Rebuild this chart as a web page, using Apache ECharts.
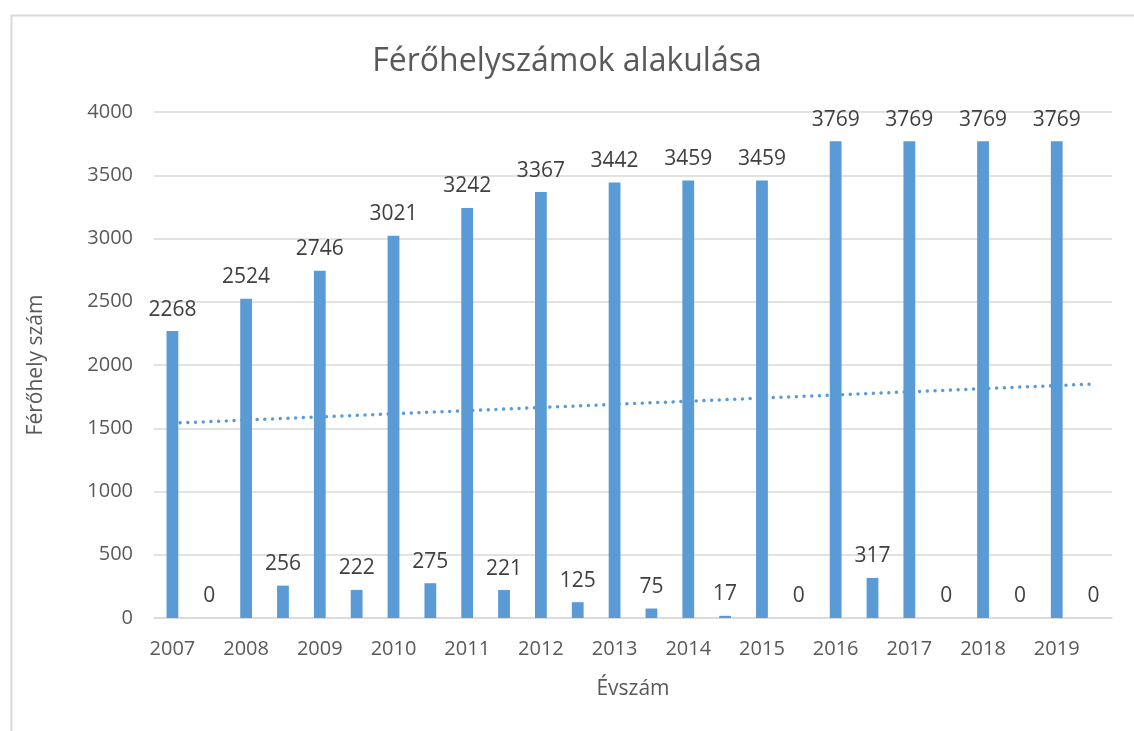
<!DOCTYPE html>
<html>
<head>
<meta charset="utf-8">
<script src="https://cdn.jsdelivr.net/npm/echarts@6/dist/echarts.min.js"></script>
<style>
html,body{margin:0;padding:0;background:#fff;}
#chart{width:1134px;height:731px;}
</style>
</head>
<body>
<div id="chart"></div>
<script>
// Data
const yearLabels = ['2007','2008','2009','2010','2011','2012','2013','2014','2015','2016','2017','2018','2019'];
const yearValues = [2268, 2524, 2746, 3021, 3242, 3367, 3442, 3459, 3459, 3769, 3769, 3769, 3769];
const betweenValues = [0, 256, 222, 275, 221, 125, 75, 17, 0, 317, 0, 0, 0];
const trendEnds = [1540, 1850];
const yTicks = [0, 500, 1000, 1500, 2000, 2500, 3000, 3500, 4000];

// Build alternating categories: year bar, then in-between bar
const categories = [];
const values = [];
yearLabels.forEach((y, i) => {
  categories.push(y); values.push(yearValues[i]);
  categories.push(y + '_b'); values.push(betweenValues[i]);
});
const trendData = values.map(() => null);
trendData[0] = trendEnds[0];
trendData[trendData.length - 1] = trendEnds[1];

const FONT = '"Open Sans", "Noto Sans", sans-serif';
const chart = echarts.init(document.getElementById('chart'));
chart.setOption({
  animation: false,
  backgroundColor: '#fff',
  graphic: [{
    type: 'rect', left: 9, top: 13, z: -10,
    shape: { width: 1300, height: 900 },
    style: { fill: 'none', stroke: '#d9d9d9', lineWidth: 2 }
  }],
  title: {
    text: 'Férőhelyszámok alakulása',
    left: 'center', top: 41,
    textStyle: { fontFamily: FONT, fontSize: 32, fontWeight: 'normal', color: '#595959' }
  },
  grid: { left: 154, right: 22, top: 112, bottom: 113 },
  xAxis: {
    type: 'category',
    data: categories,
    name: 'Évszám',
    nameLocation: 'middle',
    nameGap: 61,
    nameTextStyle: { fontFamily: FONT, fontSize: 21, color: '#595959' },
    axisLine: { lineStyle: { color: '#d9d9d9', width: 1.5 } },
    axisTick: { show: false },
    axisLabel: {
      interval: 0, margin: 21,
      fontFamily: FONT, fontSize: 20, color: '#595959',
      formatter: v => (v.indexOf('_b') >= 0 ? '' : v)
    }
  },
  yAxis: {
    type: 'value', min: yTicks[0], max: yTicks[yTicks.length - 1], interval: 500,
    name: 'Férőhely szám',
    nameLocation: 'middle',
    nameGap: 107,
    nameTextStyle: { fontFamily: FONT, fontSize: 21, color: '#595959' },
    axisLine: { show: false },
    axisTick: { show: false },
    axisLabel: { margin: 21, fontFamily: FONT, fontSize: 20, color: '#595959', formatter: v => String(v) },
    splitLine: { lineStyle: { color: '#d9d9d9', width: 1.5 } }
  },
  series: [
    {
      type: 'line',
      data: trendData,
      connectNulls: true,
      symbol: 'none',
      z: 1,
      lineStyle: { color: '#5b9bd5', width: 3.5, type: [0.01, 7.7], cap: 'round' },
      silent: true
    },
    {
      type: 'bar',
      data: values,
      barWidth: '32%',
      z: 2,
      itemStyle: { color: '#5b9bd5' },
      label: {
        show: true, position: 'top', distance: 11,
        fontFamily: FONT, fontSize: 21, color: '#404040'
      }
    }
  ]
});
</script>
</body>
</html>
